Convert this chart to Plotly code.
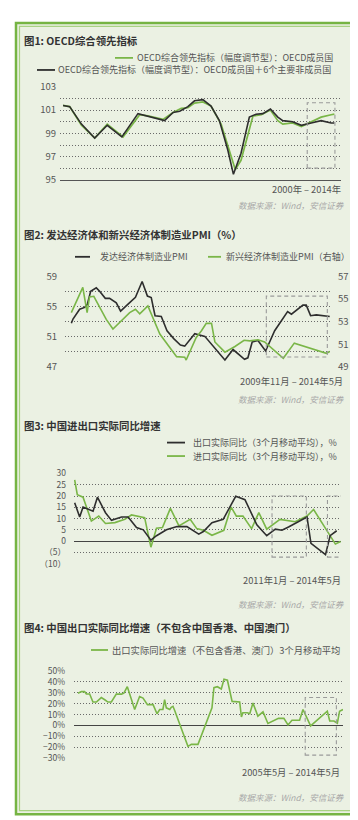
import plotly.graph_objects as go

# ---------------- DATA ----------------
# Fig1: OECD composite leading indicator (x = year)
p1_years_total = [2000.0, 2000.35, 2000.97, 2001.67, 2002.33, 2003.1, 2003.95, 2004.47, 2005.35, 2005.8,
                  2006.15, 2006.58, 2006.93, 2007.37, 2007.8, 2008.24, 2008.68, 2008.98, 2009.38, 2009.82,
                  2010.17, 2010.53, 2010.93, 2011.32, 2011.58, 2012.1, 2012.56, 2013.08, 2013.6, 2014.13, 2014.3]
p1_total = [101.4, 101.3, 99.8, 98.6, 99.7, 98.7, 100.7, 100.5, 100.1, 100.8,
            100.9, 101.3, 101.8, 101.9, 101.35, 100.1, 97.6, 95.5, 97.3, 100.4,
            100.65, 100.7, 101.1, 100.4, 100.1, 100.0, 99.7, 99.9, 100.1, 99.9, 99.9]
p1_years_oecd = [2000.0, 2000.35, 2000.97, 2001.67, 2002.33, 2003.16, 2004.04, 2004.47, 2005.27, 2005.8,
                 2006.23, 2006.58, 2006.93, 2007.37, 2007.8, 2008.33, 2009.08, 2009.38, 2010.01, 2010.45,
                 2010.93, 2011.32, 2011.58, 2012.1, 2012.56, 2013.08, 2013.6, 2014.13, 2014.3]
p1_oecd = [101.4, 101.3, 99.7, 98.6, 99.8, 98.7, 100.6, 100.5, 100.2, 100.8,
           101.15, 101.2, 101.6, 101.7, 101.35, 99.8, 95.9, 96.7, 100.5, 100.6,
           101.0, 100.1, 99.8, 99.9, 99.6, 100.0, 100.4, 100.6, 100.65]
p1_ticks = [95, 96, 97, 98, 99, 100, 101, 102, 103]
p1_ticktext = ["95", "", "97", "", "99", "", "101", "", "103"]

# Fig2: PMI (x = months since 2009-11)
p2_m_dev = [0, 0.35, 1.74, 2.79, 3.34, 4.04, 5.22, 5.92, 7.1, 8.0, 9.4, 10.3, 11.8, 13.4, 14.8, 15.9, 16.7,
            17.5, 18.8, 20.0, 21.4, 22.8, 23.7, 25.8, 27.9, 30.0, 32.1, 33.8, 36.2, 36.9, 37.8, 39.0, 40.6,
            42.5, 45.2, 46.0, 48.4, 49.1, 50.0, 51.2, 54.0]
p2_dev = [52.8, 53.35, 54.65, 54.9, 55.3, 57.05, 57.5, 57.05, 56.1, 56.1, 55.5, 54.4, 55.3, 56.25, 58.35, 56.4, 56.2,
          53.8, 53.7, 51.8, 50.75, 49.9, 49.75, 51.4, 51.05, 49.45, 47.9, 49.3, 48.0, 48.2, 50.3, 50.5, 49.1,
          51.8, 54.35, 54.0, 55.2, 55.2, 53.8, 53.9, 53.7]
p2_m_em = [0, 2.4, 3.3, 3.8, 4.7, 7.3, 8.7, 12.2, 13.4, 14.3, 16.0, 18.5, 22.0, 23.7, 24.0, 26.1, 27.2, 28.2,
           29.3, 30.0, 32.1, 34.2, 36.1, 37.3, 39.0, 40.4, 44.3, 46.6, 53.3, 54.0]
p2_em = [53.8, 56.05, 53.8, 55.2, 55.25, 53.2, 52.35, 53.8, 54.1, 53.7, 54.4, 51.9, 49.9, 49.85, 49.6, 51.6, 52.2, 52.85,
         52.85, 51.2, 50.3, 50.8, 51.35, 51.3, 51.4, 51.2, 49.75, 51.1, 50.2, 50.35]
p2_left_ticks = [47, 49, 51, 53, 55, 57, 59]
p2_left_text = ["47", "", "51", "", "55", "", "59"]
p2_right_ticks = [49, 51, 53, 55, 57]

# Fig3: China export / import real yoy, 3mma (x = months since 2011-01)
p3_m_exp = [0, 0.76, 1.27, 2.79, 3.45, 4.67, 5.58, 7.1, 8.1, 9.37, 10.4, 11.55, 12.4, 13.9, 15.5, 17.0, 18.8,
            19.5, 20.8, 22.5, 24.4, 25.8, 27.6, 29.1, 30.4, 31.4, 32.4, 33.4, 35.2, 35.8, 38.0, 38.7, 39.2, 39.7]
p3_exp = [17.0, 10.7, 15.1, 13.3, 19.5, 12.6, 9.2, 10.7, 10.7, 6.0, 5.0, 0.4, 2.4, 5.0, 6.45, 6.45, 3.1,
          4.25, 8.2, 9.65, 19.9, 18.4, 7.2, 2.4, 5.3, 4.85, 6.3, 7.8, 10.7, -1.0, -6.0, 2.4, 3.4, 4.6]
p3_m_imp = [0, 0.4, 1.27, 2.53, 3.65, 4.67, 6.1, 7.6, 8.6, 10.6, 11.55, 12.4, 13.3, 14.5, 15.8, 17.5, 18.5,
            19.5, 20.8, 22.6, 23.7, 24.5, 25.5, 26.8, 27.9, 29.1, 31.1, 33.4, 35.2, 36.2, 39.5, 40.3]
p3_imp = [27.2, 20.6, 19.5, 8.9, 11.1, 7.8, 8.2, 9.65, 11.6, 10.4, -2.7, 5.7, 6.0, 14.5, 6.75, 9.65, 5.55,
          4.8, 2.6, 4.8, 15.1, 11.1, 11.1, 5.55, 12.6, 5.3, 9.65, 8.6, 11.1, 14.0, -1.3, -0.15]
p3_ticks = [-10, -5, 0, 5, 10, 15, 20, 25, 30]
p3_ticktext = ["（10）", "（5）", "0", "5", "10", "15", "20", "25", "30"]

# Fig4: China export real yoy excl. HK & Macau, 3mma (x = months since 2005-05)
p4_m = [0, 1.36, 2.7, 3.4, 4.75, 6.1, 7.5, 9.5, 10.9, 12.2, 13.6, 15.6, 17.7, 18.7, 20.1, 21.5, 23.1, 25.1,
        26.5, 28.3, 30.6, 32.2, 33.3, 34.6, 35.3, 36.0, 37.4, 38.0, 38.7, 39.4, 44.8, 46.2, 47.5, 48.9, 54.6,
        55.4, 56.8, 58.4, 59.5, 60.9, 62.8, 65.9, 66.6, 67.2, 69.0, 70.0, 71.3, 73.3, 75.4, 77.4, 81.7, 83.9,
        85.6, 87.2, 90.3, 91.7, 94.8, 101.6, 102.6, 104.3, 105.7, 106.6, 108]
p4_exp = [29.5, 30.9, 30.9, 28.8, 28.8, 21.4, 21.4, 25.5, 23.5, 21.4, 21.4, 28.6, 28.6, 29.5, 35.4, 26.4, 14.6, 26.4,
          25.0, 19.0, 19.0, 10.7, 14.6, 14.6, 23.5, 16.1, 14.6, 16.6, 17.5, 13.7, -19.1, -17.3, -17.3, -17.3, 16.1,
          34.5, 35.4, 33.3, 42.2, 41.3, 22.0, 21.4, 7.7, 11.6, 11.6, 10.7, 20.5, 8.6, 12.5, 1.8, 6.5, 6.5,
          0.5, 4.7, 4.7, 14.6, -0.4, 13.0, 4.1, 4.1, 2.1, 13.0, 14.6]
p4_ticks = [-30, -20, -10, 0, 10, 20, 30, 40, 50]
p4_ticktext = ["−30%", "−20%", "−10%", "0%", "10%", "20%", "30%", "40%", "50%"]

# ---------------- STYLE ----------------
W, H = 358, 820
GREEN = "#7ab648"
BLACK = "#2e2e2e"
FONT = "Noto Sans CJK SC"
GRID = "#6a6a6a"
TICKC = "#555555"
BG = "#ebf1e3"


def fx(p):
    return p / W


def fy(p):
    return 1 - p / H


fig = go.Figure()

# Panel 1
fig.add_trace(go.Scatter(x=p1_years_oecd, y=p1_oecd, mode="lines", line=dict(color=GREEN, width=1.7),
                         xaxis="x", yaxis="y"))
fig.add_trace(go.Scatter(x=p1_years_total, y=p1_total, mode="lines", line=dict(color=BLACK, width=1.6),
                         xaxis="x", yaxis="y"))
# Panel 2
fig.add_trace(go.Scatter(x=p2_m_em, y=p2_em, mode="lines", line=dict(color=GREEN, width=1.6),
                         xaxis="x2", yaxis="y3"))
fig.add_trace(go.Scatter(x=p2_m_dev, y=p2_dev, mode="lines", line=dict(color=BLACK, width=1.6),
                         xaxis="x2", yaxis="y2"))
# Panel 3
fig.add_trace(go.Scatter(x=p3_m_imp, y=p3_imp, mode="lines", line=dict(color=GREEN, width=1.6),
                         xaxis="x3", yaxis="y4"))
fig.add_trace(go.Scatter(x=p3_m_exp, y=p3_exp, mode="lines", line=dict(color=BLACK, width=1.6),
                         xaxis="x3", yaxis="y4"))
# Panel 4
fig.add_trace(go.Scatter(x=p4_m, y=p4_exp, mode="lines", line=dict(color=GREEN, width=1.6),
                         xaxis="x4", yaxis="y5"))

xcommon = dict(showgrid=False, showticklabels=False, zeroline=False, ticks="", fixedrange=True)


def ycommon(size=9.5):
    return dict(showgrid=True, gridcolor=GRID, griddash="1px,2px", gridwidth=1, zeroline=False, ticks="",
                tickfont=dict(family=FONT, size=size, color=TICKC), fixedrange=True, tickmode="array")


fig.update_layout(
    width=W, height=H, margin=dict(l=0, r=0, t=0, b=0),
    paper_bgcolor="white", plot_bgcolor="rgba(0,0,0,0)", showlegend=False,
    font=dict(family=FONT),
    xaxis=dict(**xcommon, domain=[fx(52), fx(333)], range=[1999.84, 2014.65], anchor="y",
               showline=True, linecolor="#555555", linewidth=1),
    yaxis=dict(**ycommon(9.5), domain=[fy(167), fy(72)], range=[95, 103], anchor="x",
               tickvals=p1_ticks, ticktext=p1_ticktext, ticklabelstandoff=3),
    xaxis2=dict(**xcommon, domain=[fx(57), fx(323)], range=[-1.32, 54.27], anchor="y2"),
    yaxis2=dict(**ycommon(9.5), domain=[fy(357), fy(265)], range=[46.99, 59.01], anchor="x2",
                tickvals=p2_left_ticks, ticktext=p2_left_text, ticklabelstandoff=7),
    yaxis3=dict(showgrid=False, zeroline=False, ticks="", fixedrange=True, overlaying="y2", side="right",
                anchor="x2", range=[48.99, 57.01], tickmode="array", tickvals=p2_right_ticks,
                tickfont=dict(family=FONT, size=9.5, color=TICKC), ticklabelstandoff=6),
    xaxis3=dict(**xcommon, domain=[fx(66), fx(333)], range=[-0.1, 40.35], anchor="y4"),
    yaxis4=dict(**ycommon(8.5), domain=[fy(557.3), fy(465.3)], range=[-10.05, 30.05], anchor="x3",
                tickvals=p3_ticks, ticktext=p3_ticktext, ticklabelstandoff=7),
    xaxis4=dict(**xcommon, domain=[fx(66), fx(335)], range=[-1.63, 108.0], anchor="y5"),
    yaxis5=dict(**ycommon(8.5), domain=[fy(755.3), fy(666)], range=[-30.1, 50.1], anchor="x4",
                tickvals=p4_ticks, ticktext=p4_ticktext, ticklabelstandoff=8),
)
fig.update_layout(yaxis4=dict(zeroline=True, zerolinecolor="#444444", zerolinewidth=1),
                  yaxis5=dict(zeroline=True, zerolinecolor="#444444", zerolinewidth=1))

shapes = []
# Frame
shapes.append(dict(type="rect", xref="paper", yref="paper", x0=fx(8), x1=fx(352), y0=fy(812), y1=fy(7),
                   line=dict(color="#76b443", width=2.5), fillcolor=BG, layer="below"))
shapes.append(dict(type="rect", xref="paper", yref="paper", x0=fx(11.5), x1=fx(348.5), y0=fy(808.5), y1=fy(10.5),
                   line=dict(color="#a9d283", width=1.2), fillcolor="rgba(0,0,0,0)", layer="below"))

# Dashed highlight boxes (data coordinates)
DASH = dict(color="#9a9a9a", width=1.1, dash="4px,3px")
shapes.append(dict(type="rect", xref="x", yref="y", x0=2012.87, x1=2014.33, y0=96.03, y1=101.63, line=DASH))
shapes.append(dict(type="rect", xref="x2", yref="y2", x0=40.75, x1=53.5, y0=48.3, y1=56.4, line=DASH))
shapes.append(dict(type="rect", xref="x3", yref="y4", x0=29.9, x1=35.1, y0=-7.1, y1=20.0, line=DASH))
shapes.append(dict(type="rect", xref="x3", yref="y4", x0=38.3, x1=40.8, y0=-7.1, y1=20.0, line=DASH))
shapes.append(dict(type="rect", xref="x4", yref="y5", x0=92.6, x1=105.3, y0=-27.1, y1=25.5, line=DASH))


def legline(x0, x1, y, color):
    shapes.append(dict(type="line", xref="paper", yref="paper", x0=fx(x0), x1=fx(x1), y0=fy(y), y1=fy(y),
                       line=dict(color=color, width=1.8)))


legline(107, 125, 42.6, GREEN)
legline(29, 47, 54.9, BLACK)
legline(67, 82, 245, BLACK)
legline(200, 213, 245, GREEN)
legline(159, 177, 434, BLACK)
legline(159, 177, 447.7, GREEN)
legline(83, 100, 645, GREEN)
fig.update_layout(shapes=shapes)

ann = []


def text(s, x, y, size, color, anchor="left", bold=False, italic=False):
    if bold:
        s = "<b>" + s + "</b>"
    if italic:
        s = "<i>" + s + "</i>"
    ann.append(dict(text=s, x=fx(x), y=fy(y), xref="paper", yref="paper", xanchor=anchor, yanchor="middle",
                    showarrow=False, borderpad=0, font=dict(family=FONT, size=size, color=color)))


TITLE_C = "#333333"
LEG_C = "#555555"
SRC_C = "#a8a8a8"
TS = 10.4
# Panel 1
text("图1: OECD综合领先指标", 15, 25, TS, TITLE_C, bold=True)
text("OECD综合领先指标（幅度调节型）：OECD成员国", 128, 42.6, 9, LEG_C)
text("OECD综合领先指标（幅度调节型）：OECD成员国＋6个主要非成员国", 49, 54.9, 9, LEG_C)
text("2000年 – 2014年", 334, 176, 9.3, LEG_C, anchor="right")
text("数据来源：Wind，安信证券", 338, 192, 8.5, SRC_C, anchor="right", italic=True)
# Panel 2
text("图2: 发达经济体和新兴经济体制造业PMI（%）", 15, 222.3, TS, TITLE_C, bold=True)
text("发达经济体制造业PMI", 90.5, 245, 9, LEG_C)
text("新兴经济体制造业PMI（右轴）", 216.5, 245, 9, LEG_C)
text("2009年11月 – 2014年5月", 336, 371.7, 9.3, LEG_C, anchor="right")
text("数据来源：Wind，安信证券", 338, 390, 8.5, SRC_C, anchor="right", italic=True)
# Panel 3
text("图3: 中国进出口实际同比增速", 15, 416.7, TS, TITLE_C, bold=True)
text("出口实际同比（3个月移动平均），%", 184, 434, 9, LEG_C)
text("进口实际同比（3个月移动平均），%", 184, 447.7, 9, LEG_C)
text("2011年1月 – 2014年5月", 334, 574, 9.3, LEG_C, anchor="right")
text("数据来源：Wind，安信证券", 338, 598.3, 8.5, SRC_C, anchor="right", italic=True)
# Panel 4
text("图4: 中国出口实际同比增速（不包含中国香港、中国澳门）", 15, 622.3, TS, TITLE_C, bold=True)
text("出口实际同比增速（不包含香港、澳门）3个月移动平均", 103, 645, 9.3, LEG_C)
text("2005年5月 – 2014年5月", 333, 769, 9.3, LEG_C, anchor="right")
text("数据来源：Wind，安信证券", 338, 795, 8.5, SRC_C, anchor="right", italic=True)

fig.update_layout(annotations=ann)
fig.write_html("out.html")
